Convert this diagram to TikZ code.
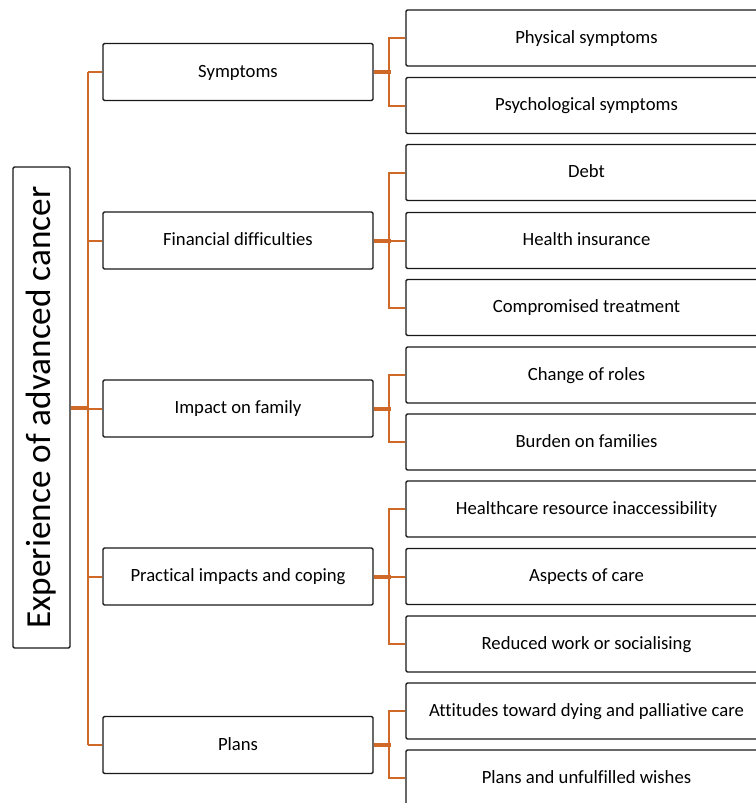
\documentclass[tikz,border=0pt]{standalone}
\usepackage{fontspec}
\setmainfont{Carlito}[Ligatures=NoCommon]
\definecolor{treeorange}{RGB}{208,104,40}
\tikzset{
  rootbox/.style={draw=black!90, line width=1.1pt, rounded corners=1pt, rotate=90,
    minimum width=360.75pt, minimum height=42.75pt, inner sep=0pt,
    font=\fontsize{26.4}{30}\selectfont},
  themebox/.style={draw=black!90, line width=1.1pt, rounded corners=1pt,
    minimum width=202.5pt, minimum height=42.75pt, inner sep=0pt,
    text height=0.95em, text depth=0.15em,
    font=\fontsize{14}{16}\selectfont},
  subbox/.style={draw=black!90, line width=1.1pt, rounded corners=1pt,
    minimum width=270.75pt, minimum height=42pt, inner sep=0pt,
    text height=0.95em, text depth=0.15em,
    font=\fontsize{14}{16}\selectfont},
  link/.style={draw=treeorange, line width=1.5pt},
  stub/.style={draw=treeorange, line width=3pt}
}
\begin{document}
\begin{tikzpicture}[x=0.75pt,y=0.75pt,yscale=-1,xscale=1]
\useasboundingbox (0,0) rectangle (756,803);

% Root
\node [rootbox] (root) at (41.5,407.5) {Experience of advanced cancer};

% Themes
\node [themebox] (sym) at (238,72) {Symptoms};
\node [themebox] (fin) at (238,240.5) {Financial difficulties};
\node [themebox] (fam) at (238,408.5) {Impact on family};
\node [themebox] (cop) at (238,576.5) {Practical impacts and coping};
\node [themebox] (pla) at (238,745) {Plans};

% Subthemes
\node [subbox] (phys) at (586.5,38) {Physical symptoms};
\node [subbox] (psy) at (586.5,105.5) {Psychological symptoms};
\node [subbox] (debt) at (586.5,172.5) {Debt};
\node [subbox] (ins) at (586.5,240.5) {Health insurance};
\node [subbox] (comp) at (586.5,307.5) {Compromised treatment};
\node [subbox] (roles) at (586.5,375) {Change of roles};
\node [subbox] (burd) at (586.5,442) {Burden on families};
\node [subbox] (acc) at (586.5,509) {Healthcare resource inaccessibility};
\node [subbox] (asp) at (586.5,576.5) {Aspects of care};
\node [subbox] (work) at (586.5,644) {Reduced work or socialising};
\node [subbox] (dying) at (586.5,711) {Attitudes toward dying and palliative care};
\node [subbox] (wish) at (586.5,778) {Plans and unfulfilled wishes};

\coordinate (trunk) at (88,0);

%Root to themes
\draw [link] (sym.west -| trunk) -- (pla.west -| trunk);
\draw [stub] (root.south) -- (root.south -| trunk);
\draw [link] (trunk |- fam.west) -- (fam.west);
\draw [link] (sym.west) -- (sym.west -| trunk);
\draw [link] (fin.west) -- (fin.west -| trunk);
\draw [link] (cop.west) -- (cop.west -| trunk);
\draw [link] (pla.west) -- (pla.west -| trunk);

%Symptoms
\draw [stub] (sym.east) -- ++(17,0);
\draw [link] (phys.west) -- ++(-16,0) |- (psy.west);
%Financial difficulties
\draw [stub] (fin.east) -- ++(17,0);
\draw [link] (debt.west) -- ++(-16,0) |- (comp.west);
\draw [link] (ins.west) -- ++(-16,0);
%Impact on family
\draw [stub] (fam.east) -- ++(17,0);
\draw [link] (roles.west) -- ++(-16,0) |- (burd.west);
%Practical impacts and coping
\draw [stub] (cop.east) -- ++(17,0);
\draw [link] (acc.west) -- ++(-16,0) |- (work.west);
\draw [link] (asp.west) -- ++(-16,0);
%Plans
\draw [stub] (pla.east) -- ++(17,0);
\draw [link] (dying.west) -- ++(-16,0) |- (wish.west);

\end{tikzpicture}
\end{document}
